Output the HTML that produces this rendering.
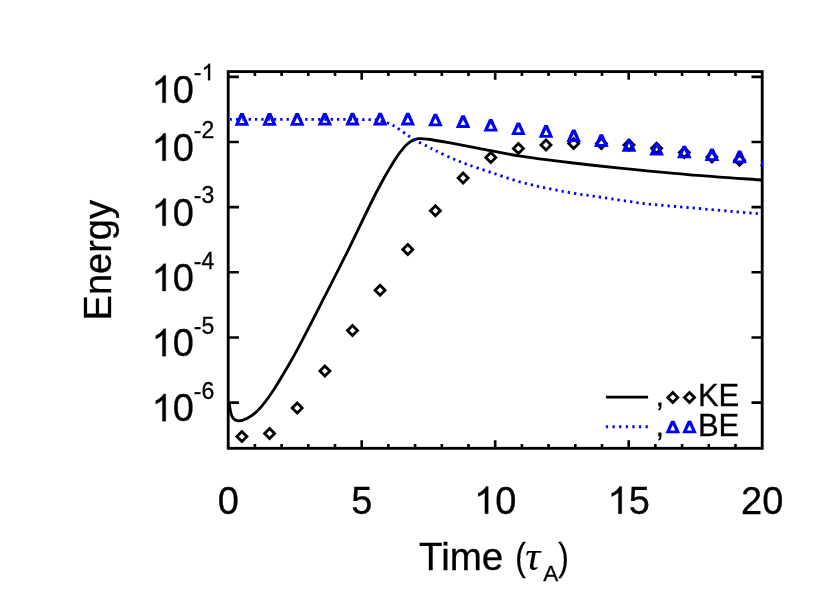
<!DOCTYPE html>
<html><head><meta charset="utf-8"><title>Energy vs Time</title>
<style>html,body{margin:0;padding:0;background:#fff;}body{width:830px;height:593px;overflow:hidden;}svg{display:block;will-change:transform;}text{font-family:"Liberation Sans",sans-serif;fill:#000;stroke:#000;stroke-width:0.3px;}</style></head><body>
<svg width="830" height="593" viewBox="0 0 830 593">
<defs><clipPath id="c"><rect x="227.6" y="71.6" width="535.4" height="376.7"/></clipPath></defs>
<rect x="228.2" y="71.6" width="534.0" height="376.7" fill="none" stroke="#000" stroke-width="2.85"/>
<path d="M254.90,448.3 v-4.3 M254.90,71.6 v4.3 M281.60,448.3 v-4.3 M281.60,71.6 v4.3 M308.30,448.3 v-4.3 M308.30,71.6 v4.3 M335.00,448.3 v-4.3 M335.00,71.6 v4.3 M361.70,448.3 v-8.1 M361.70,71.6 v8.1 M388.40,448.3 v-4.3 M388.40,71.6 v4.3 M415.10,448.3 v-4.3 M415.10,71.6 v4.3 M441.80,448.3 v-4.3 M441.80,71.6 v4.3 M468.50,448.3 v-4.3 M468.50,71.6 v4.3 M495.20,448.3 v-8.1 M495.20,71.6 v8.1 M521.90,448.3 v-4.3 M521.90,71.6 v4.3 M548.60,448.3 v-4.3 M548.60,71.6 v4.3 M575.30,448.3 v-4.3 M575.30,71.6 v4.3 M602.00,448.3 v-4.3 M602.00,71.6 v4.3 M628.70,448.3 v-8.1 M628.70,71.6 v8.1 M655.40,448.3 v-4.3 M655.40,71.6 v4.3 M682.10,448.3 v-4.3 M682.10,71.6 v4.3 M708.80,448.3 v-4.3 M708.80,71.6 v4.3 M735.50,448.3 v-4.3 M735.50,71.6 v4.3 M228.2,402.58 h10.7 M762.2,402.58 h-10.7 M228.2,337.43 h10.7 M762.2,337.43 h-10.7 M228.2,272.28 h10.7 M762.2,272.28 h-10.7 M228.2,207.13 h10.7 M762.2,207.13 h-10.7 M228.2,141.98 h10.7 M762.2,141.98 h-10.7 M228.2,76.83 h10.7 M762.2,76.83 h-10.7" fill="none" stroke="#000" stroke-width="2.6"/>
<g clip-path="url(#c)">
<path d="M229.20,403.50 C229.63,405.58 230.50,413.13 231.80,416.00 C233.10,418.87 234.40,420.32 237.00,420.70 C239.60,421.08 243.65,420.30 247.40,418.30 C251.15,416.30 255.30,413.17 259.50,408.70 C263.70,404.23 268.18,398.03 272.60,391.50 C277.02,384.97 281.68,376.87 286.00,369.50 C290.32,362.13 292.37,358.85 298.50,347.30 C304.63,335.75 314.88,315.67 322.80,300.20 C330.72,284.73 337.05,272.53 346.00,254.50 C354.95,236.47 368.40,207.72 376.50,192.00 C384.60,176.28 389.93,167.73 394.60,160.20 C399.27,152.67 401.68,150.00 404.50,146.80 C407.32,143.60 409.17,142.37 411.50,141.00 C413.83,139.63 415.38,138.85 418.50,138.60 C421.62,138.35 424.70,138.73 430.20,139.50 C435.70,140.27 443.20,141.68 451.50,143.20 C459.80,144.72 468.83,146.50 480.00,148.60 C491.17,150.70 502.92,153.40 518.50,155.80 C534.08,158.20 556.58,160.93 573.50,163.00 C590.42,165.07 600.97,166.27 620.00,168.20 C639.03,170.13 664.02,172.63 687.70,174.60 C711.38,176.57 749.70,179.10 762.10,180.00" fill="none" stroke="#000" stroke-width="2.8" stroke-linejoin="round"/>
<path d="M229.80,119.40 C241.50,119.40 276.97,119.37 300.00,119.40 C323.03,119.43 355.00,119.40 368.00,119.60 C381.00,119.80 374.52,119.97 378.00,120.60 C381.48,121.23 385.97,122.35 388.90,123.40 C391.83,124.45 392.93,125.25 395.60,126.90 C398.27,128.55 401.67,131.08 404.90,133.30 C408.13,135.52 411.20,138.00 415.00,140.20 C418.80,142.40 424.23,144.73 427.70,146.50 C431.17,148.27 431.83,148.87 435.80,150.80 C439.77,152.73 446.35,155.87 451.50,158.10 C456.65,160.33 460.17,161.83 466.70,164.20 C473.23,166.57 482.07,169.42 490.70,172.30 C499.33,175.18 509.27,178.87 518.50,181.50 C527.73,184.13 536.93,186.15 546.10,188.10 C555.27,190.05 564.28,191.67 573.50,193.20 C582.72,194.73 589.67,195.58 601.40,197.30 C613.13,199.02 629.52,201.80 643.90,203.50 C658.28,205.20 673.08,206.18 687.70,207.50 C702.32,208.82 719.20,210.32 731.60,211.40 C744.00,212.48 757.02,213.57 762.10,214.00" fill="none" stroke="#00f" stroke-width="2.8" stroke-dasharray="2.3 4.0"/>
<path d="M241.9,431.4 l5,5 l-5,5 l-5,-5 Z" fill="none" stroke="#000" stroke-width="2.8" stroke-linejoin="miter"/>
<path d="M269.6,428.4 l5,5 l-5,5 l-5,-5 Z" fill="none" stroke="#000" stroke-width="2.8" stroke-linejoin="miter"/>
<path d="M297.2,403.0 l5,5 l-5,5 l-5,-5 Z" fill="none" stroke="#000" stroke-width="2.8" stroke-linejoin="miter"/>
<path d="M324.9,366.0 l5,5 l-5,5 l-5,-5 Z" fill="none" stroke="#000" stroke-width="2.8" stroke-linejoin="miter"/>
<path d="M352.5,325.6 l5,5 l-5,5 l-5,-5 Z" fill="none" stroke="#000" stroke-width="2.8" stroke-linejoin="miter"/>
<path d="M380.1,285.2 l5,5 l-5,5 l-5,-5 Z" fill="none" stroke="#000" stroke-width="2.8" stroke-linejoin="miter"/>
<path d="M407.8,244.6 l5,5 l-5,5 l-5,-5 Z" fill="none" stroke="#000" stroke-width="2.8" stroke-linejoin="miter"/>
<path d="M435.4,205.8 l5,5 l-5,5 l-5,-5 Z" fill="none" stroke="#000" stroke-width="2.8" stroke-linejoin="miter"/>
<path d="M463.1,173.0 l5,5 l-5,5 l-5,-5 Z" fill="none" stroke="#000" stroke-width="2.8" stroke-linejoin="miter"/>
<path d="M490.8,152.4 l5,5 l-5,5 l-5,-5 Z" fill="none" stroke="#000" stroke-width="2.8" stroke-linejoin="miter"/>
<path d="M518.4,143.5 l5,5 l-5,5 l-5,-5 Z" fill="none" stroke="#000" stroke-width="2.8" stroke-linejoin="miter"/>
<path d="M546.0,139.9 l5,5 l-5,5 l-5,-5 Z" fill="none" stroke="#000" stroke-width="2.8" stroke-linejoin="miter"/>
<path d="M573.7,138.4 l5,5 l-5,5 l-5,-5 Z" fill="none" stroke="#000" stroke-width="2.8" stroke-linejoin="miter"/>
<path d="M601.4,138.6 l5,5 l-5,5 l-5,-5 Z" fill="none" stroke="#000" stroke-width="2.8" stroke-linejoin="miter"/>
<path d="M629.0,140.0 l5,5 l-5,5 l-5,-5 Z" fill="none" stroke="#000" stroke-width="2.8" stroke-linejoin="miter"/>
<path d="M656.6,143.2 l5,5 l-5,5 l-5,-5 Z" fill="none" stroke="#000" stroke-width="2.8" stroke-linejoin="miter"/>
<path d="M684.3,147.6 l5,5 l-5,5 l-5,-5 Z" fill="none" stroke="#000" stroke-width="2.8" stroke-linejoin="miter"/>
<path d="M711.9,152.0 l5,5 l-5,5 l-5,-5 Z" fill="none" stroke="#000" stroke-width="2.8" stroke-linejoin="miter"/>
<path d="M739.6,155.3 l5,5 l-5,5 l-5,-5 Z" fill="none" stroke="#000" stroke-width="2.8" stroke-linejoin="miter"/>
<path d="M234.60,125.70 L249.20,125.70 L243.60,113.10 L240.20,113.10 Z M239.30,122.90 L244.50,122.90 L241.90,117.50 Z" fill="#00f" fill-rule="evenodd"/>
<path d="M262.25,125.70 L276.85,125.70 L271.25,113.10 L267.85,113.10 Z M266.95,122.90 L272.15,122.90 L269.55,117.50 Z" fill="#00f" fill-rule="evenodd"/>
<path d="M289.90,125.70 L304.50,125.70 L298.90,113.10 L295.50,113.10 Z M294.60,122.90 L299.80,122.90 L297.20,117.50 Z" fill="#00f" fill-rule="evenodd"/>
<path d="M317.55,125.60 L332.15,125.60 L326.55,113.00 L323.15,113.00 Z M322.25,122.80 L327.45,122.80 L324.85,117.40 Z" fill="#00f" fill-rule="evenodd"/>
<path d="M345.20,125.40 L359.80,125.40 L354.20,112.80 L350.80,112.80 Z M349.90,122.60 L355.10,122.60 L352.50,117.20 Z" fill="#00f" fill-rule="evenodd"/>
<path d="M372.85,125.40 L387.45,125.40 L381.85,112.80 L378.45,112.80 Z M377.55,122.60 L382.75,122.60 L380.15,117.20 Z" fill="#00f" fill-rule="evenodd"/>
<path d="M400.50,125.40 L415.10,125.40 L409.50,112.80 L406.10,112.80 Z M405.20,122.60 L410.40,122.60 L407.80,117.20 Z" fill="#00f" fill-rule="evenodd"/>
<path d="M428.15,126.30 L442.75,126.30 L437.15,113.70 L433.75,113.70 Z M432.85,123.50 L438.05,123.50 L435.45,118.10 Z" fill="#00f" fill-rule="evenodd"/>
<path d="M455.80,127.90 L470.40,127.90 L464.80,115.30 L461.40,115.30 Z M460.50,125.10 L465.70,125.10 L463.10,119.70 Z" fill="#00f" fill-rule="evenodd"/>
<path d="M483.45,131.60 L498.05,131.60 L492.45,119.00 L489.05,119.00 Z M488.15,128.80 L493.35,128.80 L490.75,123.40 Z" fill="#00f" fill-rule="evenodd"/>
<path d="M511.10,135.00 L525.70,135.00 L520.10,122.40 L516.70,122.40 Z M515.80,132.20 L521.00,132.20 L518.40,126.80 Z" fill="#00f" fill-rule="evenodd"/>
<path d="M538.75,137.70 L553.35,137.70 L547.75,125.10 L544.35,125.10 Z M543.45,134.90 L548.65,134.90 L546.05,129.50 Z" fill="#00f" fill-rule="evenodd"/>
<path d="M566.40,142.10 L581.00,142.10 L575.40,129.50 L572.00,129.50 Z M571.10,139.30 L576.30,139.30 L573.70,133.90 Z" fill="#00f" fill-rule="evenodd"/>
<path d="M594.05,146.90 L608.65,146.90 L603.05,134.30 L599.65,134.30 Z M598.75,144.10 L603.95,144.10 L601.35,138.70 Z" fill="#00f" fill-rule="evenodd"/>
<path d="M621.70,151.80 L636.30,151.80 L630.70,139.20 L627.30,139.20 Z M626.40,149.00 L631.60,149.00 L629.00,143.60 Z" fill="#00f" fill-rule="evenodd"/>
<path d="M649.35,155.40 L663.95,155.40 L658.35,142.80 L654.95,142.80 Z M654.05,152.60 L659.25,152.60 L656.65,147.20 Z" fill="#00f" fill-rule="evenodd"/>
<path d="M677.00,158.30 L691.60,158.30 L686.00,145.70 L682.60,145.70 Z M681.70,155.50 L686.90,155.50 L684.30,150.10 Z" fill="#00f" fill-rule="evenodd"/>
<path d="M704.65,161.10 L719.25,161.10 L713.65,148.50 L710.25,148.50 Z M709.35,158.30 L714.55,158.30 L711.95,152.90 Z" fill="#00f" fill-rule="evenodd"/>
<path d="M732.30,163.20 L746.90,163.20 L741.30,150.60 L737.90,150.60 Z M737.00,160.40 L742.20,160.40 L739.60,155.00 Z" fill="#00f" fill-rule="evenodd"/>
<path d="M759.95,166.00 L774.55,166.00 L768.95,153.40 L765.55,153.40 Z M764.65,163.20 L769.85,163.20 L767.25,157.80 Z" fill="#00f" fill-rule="evenodd"/>
</g>
<path transform="translate(151.60,421.28) scale(0.01855,-0.01855)" d="M763,0 H583 V1147 Q518,1085 412.5,1023 Q307,961 223,930 V1104 Q374,1175 487,1276 Q600,1377 647,1472 H763 Z" fill="#000" stroke="#000" stroke-width="16.2"/>
<text x="172.73" y="421.3" font-size="38">0</text>
<text x="193.87" y="398.8" font-size="23">-6</text>
<path transform="translate(151.60,356.13) scale(0.01855,-0.01855)" d="M763,0 H583 V1147 Q518,1085 412.5,1023 Q307,961 223,930 V1104 Q374,1175 487,1276 Q600,1377 647,1472 H763 Z" fill="#000" stroke="#000" stroke-width="16.2"/>
<text x="172.73" y="356.1" font-size="38">0</text>
<text x="193.87" y="333.6" font-size="23">-5</text>
<path transform="translate(151.60,290.98) scale(0.01855,-0.01855)" d="M763,0 H583 V1147 Q518,1085 412.5,1023 Q307,961 223,930 V1104 Q374,1175 487,1276 Q600,1377 647,1472 H763 Z" fill="#000" stroke="#000" stroke-width="16.2"/>
<text x="172.73" y="291.0" font-size="38">0</text>
<text x="193.87" y="268.5" font-size="23">-4</text>
<path transform="translate(151.60,225.83) scale(0.01855,-0.01855)" d="M763,0 H583 V1147 Q518,1085 412.5,1023 Q307,961 223,930 V1104 Q374,1175 487,1276 Q600,1377 647,1472 H763 Z" fill="#000" stroke="#000" stroke-width="16.2"/>
<text x="172.73" y="225.8" font-size="38">0</text>
<text x="193.87" y="203.3" font-size="23">-3</text>
<path transform="translate(151.60,160.68) scale(0.01855,-0.01855)" d="M763,0 H583 V1147 Q518,1085 412.5,1023 Q307,961 223,930 V1104 Q374,1175 487,1276 Q600,1377 647,1472 H763 Z" fill="#000" stroke="#000" stroke-width="16.2"/>
<text x="172.73" y="160.7" font-size="38">0</text>
<text x="193.87" y="138.2" font-size="23">-2</text>
<path transform="translate(151.60,102.70) scale(0.01855,-0.01855)" d="M763,0 H583 V1147 Q518,1085 412.5,1023 Q307,961 223,930 V1104 Q374,1175 487,1276 Q600,1377 647,1472 H763 Z" fill="#000" stroke="#000" stroke-width="16.2"/>
<text x="172.73" y="102.7" font-size="38">0</text>
<text x="193.87" y="80.2" font-size="23">-</text>
<path transform="translate(201.53,80.20) scale(0.01123,-0.01123)" d="M763,0 H583 V1147 Q518,1085 412.5,1023 Q307,961 223,930 V1104 Q374,1175 487,1276 Q600,1377 647,1472 H763 Z" fill="#000" stroke="#000" stroke-width="26.7"/>
<text x="228.2" y="513.8" font-size="38" text-anchor="middle">0</text>
<text x="361.7" y="513.8" font-size="38" text-anchor="middle">5</text>
<text x="762.2" y="513.8" font-size="38" text-anchor="middle">20</text>
<path transform="translate(474.07,513.80) scale(0.01855,-0.01855)" d="M763,0 H583 V1147 Q518,1085 412.5,1023 Q307,961 223,930 V1104 Q374,1175 487,1276 Q600,1377 647,1472 H763 Z" fill="#000" stroke="#000" stroke-width="16.2"/>
<text x="495.20" y="513.8" font-size="38">0</text>
<path transform="translate(607.57,513.80) scale(0.01855,-0.01855)" d="M763,0 H583 V1147 Q518,1085 412.5,1023 Q307,961 223,930 V1104 Q374,1175 487,1276 Q600,1377 647,1472 H763 Z" fill="#000" stroke="#000" stroke-width="16.2"/>
<text x="628.70" y="513.8" font-size="38">5</text>
<text transform="translate(111.2,260.2) rotate(-90)" font-size="38" text-anchor="middle">Energy</text>
<text x="419" y="570.0" font-size="38.6">Time</text>
<text transform="translate(515.3,570) scale(0.82,1)" font-size="38.6">(</text>
<text x="525.3" y="570.0" font-size="42" font-style="italic" style="font-family:'Liberation Serif',serif;stroke-width:0.1px">τ</text>
<text x="543.2" y="580.6" font-size="22.5">A</text>
<text transform="translate(558.2,570) scale(0.82,1)" font-size="38.6">)</text>
<path d="M605.9,397.1 H648.1" stroke="#000" stroke-width="2.8" fill="none"/>
<path d="M605.9,426.7 H648.1" stroke="#00f" stroke-width="2.9" stroke-dasharray="2.2 4.42" fill="none"/>
<text x="655.5" y="405.5" font-size="31">,</text>
<text x="655.5" y="435.5" font-size="31">,</text>
<path d="M672.8,392.4 l5,5 l-5,5 l-5,-5 Z" fill="none" stroke="#000" stroke-width="2.8" stroke-linejoin="miter"/>
<path d="M665.50,433.30 L680.10,433.30 L674.50,420.70 L671.10,420.70 Z M670.20,430.50 L675.40,430.50 L672.80,425.10 Z" fill="#00f" fill-rule="evenodd"/>
<path d="M689.5,392.4 l5,5 l-5,5 l-5,-5 Z" fill="none" stroke="#000" stroke-width="2.8" stroke-linejoin="miter"/>
<path d="M682.20,433.30 L696.80,433.30 L691.20,420.70 L687.80,420.70 Z M686.90,430.50 L692.10,430.50 L689.50,425.10 Z" fill="#00f" fill-rule="evenodd"/>
<text transform="translate(697.9,405.6) scale(1,1.04)" font-size="31">KE</text>
<text transform="translate(697.9,435.7) scale(1,1.04)" font-size="31">BE</text>
</svg></body></html>
